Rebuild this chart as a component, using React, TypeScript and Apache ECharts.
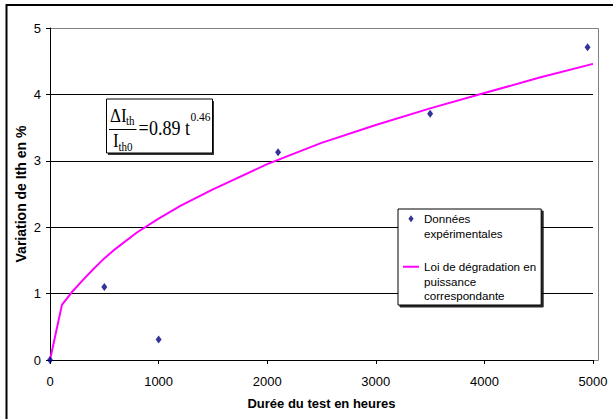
import React, { useEffect, useRef } from 'react';
import * as echarts from 'echarts';

// Experimental data (hours, % variation of Ith)
const expHours = [0, 500, 1000, 2100, 3500, 4950];
const expValues = [0, 1.1, 0.31, 3.13, 3.71, 4.71];

// Power-law degradation curve
const lawHours = [0, 110, 200, 300, 400, 500, 600, 800, 1000, 1200, 1500, 2000, 2500, 3000, 3500, 4000, 4500, 5000];
const lawValues = [0, 0.83, 1.02, 1.2, 1.37, 1.53, 1.67, 1.92, 2.13, 2.32, 2.57, 2.95, 3.27, 3.54, 3.79, 4.02, 4.25, 4.46];

const expName = 'Données\nexpérimentales';
const lawName = 'Loi de dégradation en\npuissance\ncorrespondante';
const xTitle = 'Durée du test en heures';
const yTitle = 'Variation de Ith en %';

const SANS = '"Liberation Sans", Arial, sans-serif';
const SERIF = '"Liberation Serif", "Times New Roman", serif';

function eqText(text: string, x: number, y: number, size: number) {
  return {
    type: 'text',
    x,
    y,
    scaleY: 1.15,
    style: { text, font: `${size}px ${SERIF}`, fill: '#000', verticalAlign: 'middle', align: 'left' },
  };
}

export default function App() {
  const ref = useRef<HTMLDivElement>(null);
  useEffect(() => {
    document.body.style.margin = '0';
    const chart = echarts.init(ref.current!, null, { renderer: 'svg' });
    const option: any = {
      animation: false,
      backgroundColor: '#ffffff',
      textStyle: { fontFamily: SANS },
      grid: { left: 50, right: 20, top: 28, bottom: 59, containLabel: false },
      xAxis: {
        type: 'value',
        min: 0,
        max: 5000,
        interval: 1000,
        axisLine: { show: true, lineStyle: { color: '#000', width: 1 } },
        axisTick: { show: true, length: 4, lineStyle: { color: '#000' } },
        axisLabel: { color: '#000', fontSize: 13, margin: 15, fontFamily: SANS, formatter: (v: number) => String(v) },
        splitLine: { show: false },
        name: xTitle,
        nameLocation: 'middle',
        nameGap: 37,
        nameMoveOverlap: false,
        nameTextStyle: { fontWeight: 'bold', fontSize: 13, color: '#000', fontFamily: SANS },
      },
      yAxis: {
        type: 'value',
        min: 0,
        max: 5,
        interval: 1,
        axisLine: { show: true, lineStyle: { color: '#000', width: 1 } },
        axisTick: { show: true, length: 4, lineStyle: { color: '#000' } },
        axisLabel: { color: '#000', fontSize: 13, margin: 9, fontFamily: SANS },
        splitLine: {
          show: true,
          lineStyle: { color: ['#000', '#000', '#000', '#000', '#000', '#808080'], width: 1 },
        },
        name: yTitle,
        nameLocation: 'middle',
        nameGap: 22,
        nameMoveOverlap: false,
        nameTextStyle: { fontWeight: 'bold', fontSize: 14, color: '#000', fontFamily: SANS },
      },
      legend: {
        orient: 'vertical',
        left: 398,
        top: 209,
        padding: [-12, 5, 2, 5],
        itemWidth: 16,
        itemHeight: 7,
        itemGap: -10,
        selectedMode: false,
        backgroundColor: '#fff',
        borderColor: '#000',
        borderWidth: 1,
        borderRadius: 0,
        shadowColor: 'rgba(0,0,0,0.85)',
        shadowOffsetX: 2,
        shadowOffsetY: 2,
        shadowBlur: 1,
        textStyle: { fontSize: 11.6, color: '#000', lineHeight: 14.5, fontFamily: SANS },
        formatter: (name: string) => (name === expName ? '\n' + name : '\n\n' + name),
        data: [
          { name: expName, icon: 'path://M0,-4L3,0L0,4L-3,0Z' },
          { name: lawName, icon: 'path://M0,0L16,0L16,2L0,2Z' },
        ],
      },
      series: [
        {
          name: lawName,
          type: 'line',
          data: lawHours.map((h, i) => [h, lawValues[i]]),
          symbol: 'none',
          showSymbol: false,
          smooth: false,
          lineStyle: { color: '#FF00FF', width: 2 },
          itemStyle: { color: '#FF00FF' },
          z: 2,
        },
        {
          name: expName,
          type: 'scatter',
          data: expHours.map((h, i) => [h, expValues[i]]),
          symbol: 'diamond',
          symbolSize: [6, 8],
          itemStyle: { color: '#000080' },
          z: 3,
        },
      ],
      graphic: [
        {
          type: 'polyline',
          shape: { points: [[6.5, 419], [6.5, 5], [613, 5]] },
          style: { stroke: '#000', lineWidth: 2, fill: null },
          silent: true,
        },
        {
          type: 'polyline',
          shape: { points: [[593, 28.5], [598.5, 28.5], [598.5, 360.5], [593, 360.5]] },
          style: { stroke: '#808080', lineWidth: 1, fill: null },
          silent: true,
        },
        {
          type: 'group',
          silent: true,
          children: [
            { type: 'rect', shape: { x: 108, y: 101, width: 106, height: 54 }, style: { fill: '#333', stroke: null } },
            { type: 'rect', shape: { x: 106.5, y: 99, width: 106, height: 54 }, style: { fill: '#fff', stroke: '#000', lineWidth: 1 } },
            eqText('ΔI', 110, 115.7, 17),
            eqText('th', 126, 121, 11),
            { type: 'line', shape: { x1: 109, y1: 129.5, x2: 136.5, y2: 129.5 }, style: { stroke: '#000', lineWidth: 1 } },
            eqText('I', 113, 140.7, 17),
            eqText('th0', 118.5, 146.7, 11),
            eqText('=', 138.5, 128, 18),
            eqText('0.89', 149, 128.3, 18),
            eqText('t', 185, 128.3, 18),
            eqText('0.46', 190.5, 117, 11.5),
          ],
        },
      ],
    };
    chart.setOption(option);
    return () => chart.dispose();
  }, []);
  return (
    <div
      ref={ref}
      style={{ position: 'absolute', left: 0, top: 0, width: 613, height: 419, background: '#fff' }}
    />
  );
}
